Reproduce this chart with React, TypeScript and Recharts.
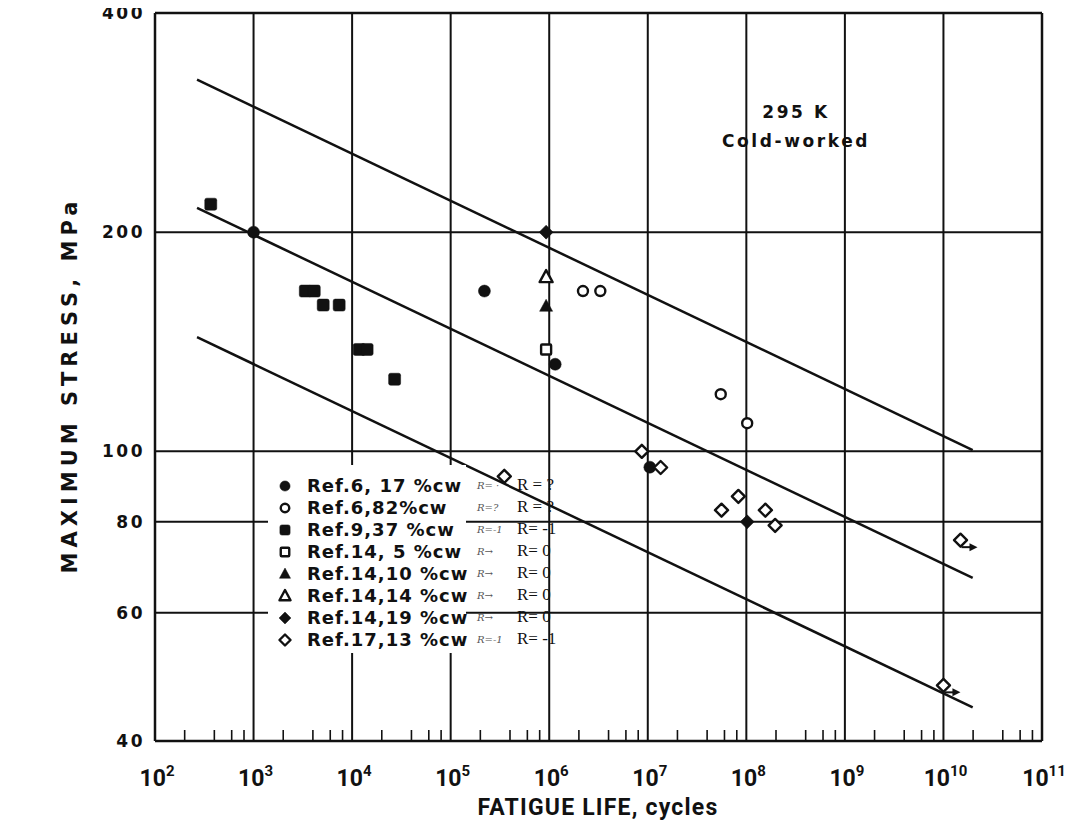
import React from "react";
import {
  ScatterChart,
  Scatter,
  XAxis,
  YAxis,
  CartesianGrid,
  ReferenceLine,
} from "recharts";

// fatigue life (cycles) and max stress (MPa)
const ref6cw17Life = [1.0e3, 2.2e5, 1.15e6, 1.05e7];
const ref6cw17Stress = [200, 166, 131.7, 95.1];

const ref6cw82Life = [2.2e6, 3.3e6, 5.5e7, 1.02e8];
const ref6cw82Stress = [166, 166, 119.8, 109.3];

const ref9cw37Life = [368, 3350, 4130, 5090, 7390, 1.18e4, 1.42e4, 2.7e4];
const ref9cw37Stress = [218.5, 166, 166, 158.8, 158.8, 138, 138, 125.6];

const ref14cw5Life = [9.3e5];
const ref14cw5Stress = [138];

const ref14cw10Life = [9.3e5];
const ref14cw10Stress = [158.2];

const ref14cw14Life = [9.3e5];
const ref14cw14Stress = [173.5];

const ref14cw19Life = [9.3e5, 1.02e8];
const ref14cw19Stress = [200, 80];

const ref17cw13Life = [3.5e5, 8.7e6, 1.35e7, 5.6e7, 8.3e7, 1.56e8, 1.96e8, 1.49e10, 1.0e10];
const ref17cw13Stress = [92.4, 100, 95, 83, 86.7, 83, 79.1, 75.5, 47.7];

// run-outs (arrow marks)
const runoutLife = [1.49e10, 1.0e10];
const runoutStress = [75.5, 47.7];

// scatter band lines
const fitLife = [267, 1.98e10];
const upperStress = [324, 100.4];
const meanStress = [216, 67];
const lowerStress = [143.5, 44.5];

const decades = [1e2, 1e3, 1e4, 1e5, 1e6, 1e7, 1e8, 1e9, 1e10, 1e11];
const minorSteps = [2, 4, 6, 8];
const gridLife = [1e3, 1e4, 1e5, 1e6, 1e7, 1e8, 1e9, 1e10];
const stressTicks = [40, 60, 80, 100, 200, 400];
const gridStress = [60, 80, 100, 200];

const legendLabels = [
  "Ref.6, 17 %cw",
  "Ref.6,82%cw",
  "Ref.9,37 %cw",
  "Ref.14, 5 %cw",
  "Ref.14,10 %cw",
  "Ref.14,14 %cw",
  "Ref.14,19 %cw",
  "Ref.17,13 %cw",
];
const ratioLabels = ["R = ?", "R = ?", "R= -1", "R= 0", "R= 0", "R= 0", "R= 0", "R= -1"];
const scribbles = ["R= ·", "R=?", "R=-1", "R→", "R→", "R→", "R→", "R=-1"];

const INK = "#111";
const geo = "'DejaVu Sans', Verdana, sans-serif";
const narrow = "Roboto, 'Liberation Sans', sans-serif";

const zip = (xs: number[], ys: number[]) => xs.map((x, i) => ({ life: x, stress: ys[i] }));
const minorLife = decades.slice(0, -1).flatMap((d) => minorSteps.map((m) => d * m));
const bottomTicks = [...decades, ...minorLife].sort((a, b) => a - b);

type Kind = "circle" | "square" | "triangle" | "diamond";

function Mark({ cx, cy, kind, filled, s = 1 }: { cx: number; cy: number; kind: Kind; filled: boolean; s?: number }) {
  const fill = filled ? INK : "#fff";
  const stroke = INK;
  const sw = filled ? 0.5 : 2.4;
  if (kind === "circle") {
    return <circle cx={cx} cy={cy} r={(filled ? 6 : 5) * s} fill={fill} stroke={stroke} strokeWidth={sw} />;
  }
  if (kind === "square") {
    const h = (filled ? 6 : 5) * s;
    return <rect x={cx - h} y={cy - h} width={2 * h} height={2 * h} rx={filled ? 2 : 1} fill={fill} stroke={stroke} strokeWidth={sw} />;
  }
  if (kind === "triangle") {
    const pts = `${cx},${cy - 7 * s} ${cx + 6.5 * s},${cy + 5 * s} ${cx - 6.5 * s},${cy + 5 * s}`;
    return <polygon points={pts} fill={fill} stroke={stroke} strokeWidth={sw} strokeLinejoin="round" />;
  }
  const r = (filled ? 7 : 6.5) * s;
  const pts = `${cx},${cy - r} ${cx + r},${cy} ${cx},${cy + r} ${cx - r},${cy}`;
  return <polygon points={pts} fill={fill} stroke={stroke} strokeWidth={sw} strokeLinejoin="round" />;
}

const shape = (kind: Kind, filled: boolean) => (p: any) =>
  <Mark cx={p.cx} cy={p.cy} kind={kind} filled={filled} />;

const arrowShape = (p: any) => (
  <g>
    <line x1={p.cx + 1} y1={p.cy + 7} x2={p.cx + 12} y2={p.cy + 7} stroke={INK} strokeWidth={2} />
    <polygon points={`${p.cx + 17},${p.cy + 7} ${p.cx + 9},${p.cy + 3} ${p.cx + 9},${p.cy + 11}`} fill={INK} />
  </g>
);

const series: { life: number[]; stress: number[]; kind: Kind; filled: boolean }[] = [
  { life: ref6cw17Life, stress: ref6cw17Stress, kind: "circle", filled: true },
  { life: ref6cw82Life, stress: ref6cw82Stress, kind: "circle", filled: false },
  { life: ref9cw37Life, stress: ref9cw37Stress, kind: "square", filled: true },
  { life: ref14cw5Life, stress: ref14cw5Stress, kind: "square", filled: false },
  { life: ref14cw10Life, stress: ref14cw10Stress, kind: "triangle", filled: true },
  { life: ref14cw14Life, stress: ref14cw14Stress, kind: "triangle", filled: false },
  { life: ref14cw19Life, stress: ref14cw19Stress, kind: "diamond", filled: true },
  { life: ref17cw13Life, stress: ref17cw13Stress, kind: "diamond", filled: false },
];

function LifeTick(props: any) {
  const { x, y, payload } = props;
  const v = payload.value as number;
  const exp = Math.round(Math.log10(v));
  if (Math.abs(v / 10 ** exp - 1) > 1e-6) {
    return <line x1={x} x2={x} y1={y} y2={y - 11} stroke={INK} strokeWidth={1.6} />;
  }
  return (
    <text x={x + 2} y={y + 45} textAnchor="middle" fontFamily={narrow} fontWeight={700} fontSize={23} fill={INK}>
      10
      <tspan dy={-10} fontSize={15}>
        {exp}
      </tspan>
    </text>
  );
}

function TopTick(props: any) {
  const { x, y } = props;
  return <line x1={x} x2={x} y1={y} y2={y + 11} stroke={INK} strokeWidth={1.6} />;
}

function StressTick(props: any) {
  const { x, y, payload } = props;
  return (
    <text x={x} y={y + 6} textAnchor="end" fontFamily={geo} fontWeight={700} fontSize={17} letterSpacing={2.5} fill={INK}>
      {payload.value}
    </text>
  );
}

export default function App() {
  const lineStyle = { stroke: INK, strokeWidth: 2.5 };
  return (
    <div style={{ position: "relative", width: 1077, height: 829, margin: -8, background: "#fff" }}>
      <ScatterChart width={1077} height={829} margin={{ top: 0, right: 0, bottom: 0, left: 0 }}>
        <CartesianGrid
          xAxisId="x"
          yAxisId="y"
          verticalValues={gridLife}
          horizontalValues={gridStress}
          stroke={INK}
          strokeWidth={2}
        />
        <XAxis
          xAxisId="x"
          dataKey="life"
          type="number"
          scale="log"
          domain={[1e2, 1e11]}
          allowDataOverflow
          ticks={bottomTicks}
          interval={0}
          tick={<LifeTick />}
          tickLine={false}
          tickSize={0}
          tickMargin={0}
          height={88}
          axisLine={{ stroke: INK, strokeWidth: 2.5 }}
        />
        <XAxis
          xAxisId="top"
          orientation="top"
          type="number"
          scale="log"
          domain={[1e2, 1e11]}
          allowDataOverflow
          ticks={minorLife}
          interval={0}
          tick={<TopTick />}
          tickLine={false}
          tickSize={0}
          tickMargin={0}
          height={13}
          axisLine={{ stroke: INK, strokeWidth: 2.5 }}
        />
        <YAxis
          yAxisId="y"
          dataKey="stress"
          type="number"
          scale="log"
          domain={[40, 400]}
          allowDataOverflow
          ticks={stressTicks}
          interval={0}
          tick={<StressTick />}
          tickLine={false}
          tickSize={0}
          tickMargin={10}
          width={155}
          axisLine={{ stroke: INK, strokeWidth: 2.5 }}
        />
        <YAxis
          yAxisId="right"
          orientation="right"
          type="number"
          scale="log"
          domain={[40, 400]}
          allowDataOverflow
          tick={false}
          tickLine={false}
          width={35}
          axisLine={{ stroke: INK, strokeWidth: 2.5 }}
        />
        <ReferenceLine
          xAxisId="x"
          yAxisId="y"
          segment={[{ x: fitLife[0], y: upperStress[0] }, { x: fitLife[1], y: upperStress[1] }]}
          {...lineStyle}
        />
        <ReferenceLine
          xAxisId="x"
          yAxisId="y"
          segment={[{ x: fitLife[0], y: meanStress[0] }, { x: fitLife[1], y: meanStress[1] }]}
          {...lineStyle}
        />
        <ReferenceLine
          xAxisId="x"
          yAxisId="y"
          segment={[{ x: fitLife[0], y: lowerStress[0] }, { x: fitLife[1], y: lowerStress[1] }]}
          {...lineStyle}
        />
        {series.map((s, i) => (
          <Scatter
            key={i}
            xAxisId="x"
            yAxisId="y"
            data={zip(s.life, s.stress)}
            shape={shape(s.kind, s.filled)}
            isAnimationActive={false}
          />
        ))}
        <Scatter xAxisId="x" yAxisId="y" data={zip(runoutLife, runoutStress)} shape={arrowShape} isAnimationActive={false} />
      </ScatterChart>

      {/* legend box */}
      <div
        style={{
          position: "absolute",
          left: 268,
          top: 465,
          width: 198,
          height: 188,
          background: "#fff",
        }}
      >
        {legendLabels.map((t, i) => (
          <div key={t} style={{ position: "absolute", left: 0, top: 10 + 22 * i, height: 22, width: 198 }}>
            <svg width={26} height={22} style={{ position: "absolute", left: 4, top: 0 }}>
              <Mark cx={13} cy={11} kind={series[i].kind} filled={series[i].filled} s={0.85} />
            </svg>
            <span
              style={{
                position: "absolute",
                left: 39,
                top: 0,
                lineHeight: "22px",
                fontFamily: geo,
                fontWeight: 700,
                fontSize: 18,
                letterSpacing: 1,
                whiteSpace: "pre",
                color: INK,
              }}
            >
              {t}
            </span>
          </div>
        ))}
      </div>
      {scribbles.map((t, i) => (
        <div
          key={"s" + i}
          style={{
            position: "absolute",
            left: 477,
            top: 475 + 22 * i,
            lineHeight: "22px",
            fontFamily: "'DejaVu Serif', serif",
            fontStyle: "italic",
            fontSize: 10,
            color: "#555",
            whiteSpace: "pre",
          }}
        >
          {t}
        </div>
      ))}
      {ratioLabels.map((t, i) => (
        <div
          key={"r" + i}
          style={{
            position: "absolute",
            left: 517,
            top: 474 + 22 * i,
            lineHeight: "22px",
            fontFamily: "'Liberation Serif', 'Times New Roman', serif",
            fontSize: 17,
            color: INK,
            whiteSpace: "pre",
          }}
        >
          {t}
        </div>
      ))}

      {/* condition note */}
      <div
        style={{
          position: "absolute",
          left: 696,
          top: 98,
          width: 200,
          textAlign: "center",
          fontFamily: geo,
          fontWeight: 700,
          fontSize: 17,
          letterSpacing: 2.6,
          lineHeight: "29px",
          color: INK,
        }}
      >
        295 K
        <br />
        Cold-worked
      </div>

      {/* axis titles */}
      <div
        style={{
          position: "absolute",
          left: 598 - 200,
          top: 808 - 14,
          width: 400,
          textAlign: "center",
          fontFamily: narrow,
          fontWeight: 700,
          fontSize: 23,
          letterSpacing: 1.2,
          lineHeight: "28px",
          color: INK,
        }}
      >
        FATIGUE LIFE, cycles
      </div>
      <div
        style={{
          position: "absolute",
          left: 70 - 220,
          top: 385 - 14,
          width: 440,
          textAlign: "center",
          transform: "rotate(-90deg)",
          fontFamily: geo,
          fontWeight: 700,
          fontSize: 21,
          letterSpacing: 5,
          lineHeight: "28px",
          color: INK,
        }}
      >
        MAXIMUM STRESS, MPa
      </div>
    </div>
  );
}
